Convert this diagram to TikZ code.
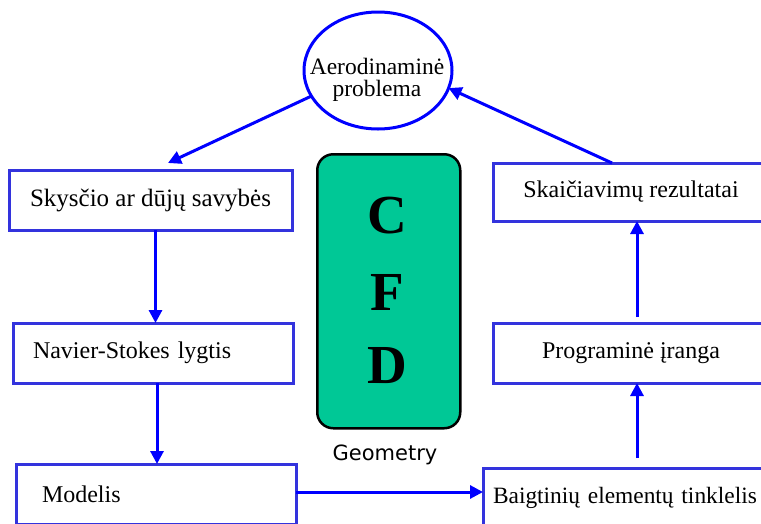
\documentclass[tikz,border=0pt]{standalone}
\usepackage{fontspec}
\setmainfont{Liberation Serif}
\newfontfamily\geofont{DejaVu Sans}
\usetikzlibrary{arrows.meta,shapes.geometric,calc}
\definecolor{boxblue}{RGB}{51,51,221}
\definecolor{cfdgreen}{RGB}{0,200,150}
\begin{document}
\begin{tikzpicture}[x=1pt,y=-1pt,
  box/.style={draw=boxblue, line width=3pt, minimum height=60pt, inner ysep=0pt, outer sep=0pt,
    font=\fontsize{24}{28}\selectfont, anchor=north west},
  arr/.style={draw=blue, line width=3pt, -{Triangle[length=13pt,width=13pt]}},
  cfdletter/.style={font=\fontsize{55}{60}\selectfont\bfseries, inner sep=0pt, anchor=base}]
\useasboundingbox (0,0) rectangle (761,523);
\clip (0,0) rectangle (761,523);

% ellipse
\node[ellipse, draw=blue, line width=3pt, minimum width=148pt, minimum height=117pt, inner sep=0pt, outer sep=0pt] (ell) at (378,70.5) {};
\node[font=\fontsize{23.5}{22.5}\selectfont, align=center, inner sep=0pt] (ellt) at (377,80) {Aerodinaminė\\problema};

% left boxes
\node[box, minimum width=283pt, font=\fontsize{25}{28}\selectfont] (b1) at (9,170) {Skysčio ar dūjų savybės};
\node[box, minimum width=280pt, text width=240pt, inner xsep=20pt, align=left] (b2) at (13,323) {Navier-Stokes lygtis};
\node[box, minimum width=280pt, text width=228pt, inner xsep=26pt, align=left] (b3) at (16,464) {Modelis};

% right boxes
\node[box, minimum width=276pt, minimum height=58pt] (b4) at (493,163) {Skaičiavimų rezultatai};
\node[box, minimum width=276pt] (b5) at (493,323) {Programinė įranga};
\node[box, minimum width=320pt, text width=300pt, inner xsep=9pt, align=left, font=\fontsize{23.4}{28}\selectfont] (b6) at (483,468) {Baigtinių elementų tinklelis};

% CFD block
\node[draw=black, line width=2.5pt, fill=cfdgreen, rounded corners=16pt, minimum width=143pt, minimum height=274pt, anchor=north west, inner sep=0pt] (cfd) at (316,153) {};
\node[cfdletter] (lc) at (387,233) {C};
\node[cfdletter] (lf) at (387,310) {F};
\node[cfdletter] (ld) at (387,383) {D};
\node[font=\geofont\fontsize{21}{24}\selectfont, inner sep=0pt, anchor=base] (geo) at (385,460) {Geometry};

% connectors
\coordinate (a1) at ([xshift=5pt]b1.south);
\coordinate (a2) at ([xshift=4pt]b2.south);
\coordinate (a3) at ([yshift=2pt]b3.east);
\coordinate (a6) at ([xshift=6pt]b5.south);
\coordinate (a5) at ([xshift=6pt]b4.south);
\draw[arr] (ell.201) -- ([xshift=17.5pt,yshift=7pt]b1.north);
\draw[arr] ([xshift=-19pt]b4.north) -- (ell.-14);
\draw[arr] (a1) -- (a1 |- b2.north);
\draw[arr] (a2) -- (a2 |- b3.north);
\draw[arr] (a3) -- (a3 -| b6.west);
\draw[arr] ($(b6.north -| a6)+(0pt,10pt)$) -- (a6);
\draw[arr] ($(b5.north -| a5)+(0pt,6pt)$) -- (a5);
\end{tikzpicture}
\end{document}
